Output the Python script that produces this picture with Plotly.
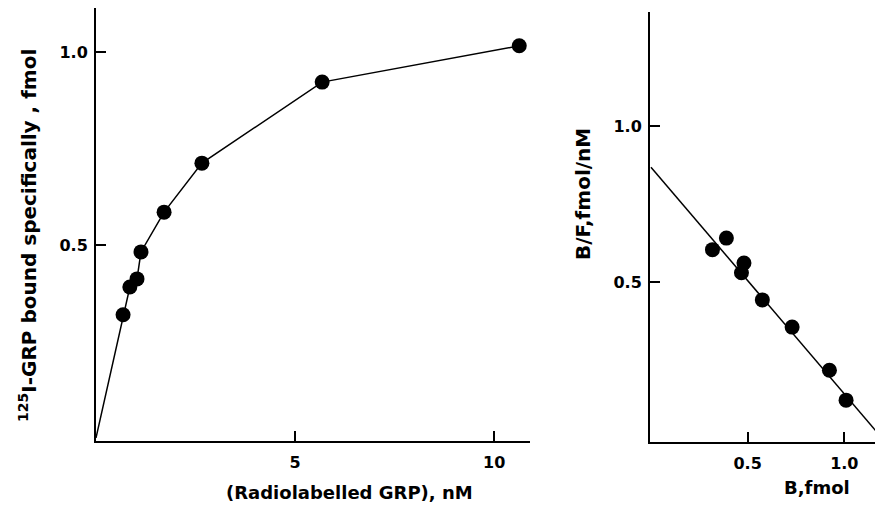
import plotly.graph_objects as go

# Left panel: saturation curve
grp_nM = [0.0, 0.68, 0.85, 1.03, 1.13, 1.71, 2.66, 5.68, 10.63]
bound_fmol = [0.0, 0.319, 0.391, 0.412, 0.482, 0.585, 0.712, 0.922, 1.016]

# Right panel: Scatchard plot
b_fmol = [0.318, 0.390, 0.481, 0.468, 0.576, 0.730, 0.923, 1.009]
bf_ratio = [0.604, 0.641, 0.561, 0.530, 0.443, 0.356, 0.218, 0.122]
fit_intercept = 0.868
fit_slope = -0.726
fit_x = [0.0, 1.2]
fit_y = [fit_intercept + fit_slope * x for x in fit_x]

left_xticks = [5, 10]
left_yticks = [0.5, 1.0]
right_xticks = [0.5, 1.0]
right_yticks = [0.5, 1.0]

FONT = "DejaVu Sans"
# page body has an 8px margin: size the figure to fill the rest of the window
OFF = 8
W, H = 883 - OFF, 508 - OFF


def px(x):
    return (x - OFF) / W


def py(y):
    return 1 - (y - OFF) / H


fig = go.Figure()

fig.add_trace(go.Scatter(x=grp_nM, y=bound_fmol, mode="lines", line=dict(color="black", width=1.5),
                         xaxis="x", yaxis="y", showlegend=False, hoverinfo="skip"))
fig.add_trace(go.Scatter(x=grp_nM[1:], y=bound_fmol[1:], mode="markers",
                         marker=dict(color="black", size=15), xaxis="x", yaxis="y", showlegend=False))
fig.add_trace(go.Scatter(x=fit_x, y=fit_y, mode="lines", line=dict(color="black", width=1.5),
                         xaxis="x2", yaxis="y2", showlegend=False, hoverinfo="skip"))
fig.add_trace(go.Scatter(x=b_fmol, y=bf_ratio, mode="markers",
                         marker=dict(color="black", size=15), xaxis="x2", yaxis="y2", showlegend=False))

tickfont = dict(family=FONT, size=16, color="black", weight="bold")
axis_common = dict(showgrid=False, zeroline=False, showline=True, linecolor="black", linewidth=2,
                   ticks="inside", ticklen=10, tickwidth=1.5, tickcolor="black", tickfont=tickfont,
                   automargin=False)

fig.update_layout(
    template="none",
    width=W, height=H,
    margin=dict(l=0, r=0, t=0, b=0),
    paper_bgcolor="white", plot_bgcolor="white",
    xaxis=dict(domain=[px(96), px(530)], range=[0, 10.9], tickvals=left_xticks,
               ticktext=[str(v) for v in left_xticks], anchor="y", ticklabelstandoff=6, **axis_common),
    yaxis=dict(domain=[py(441), py(8)], range=[-0.008, 1.114], tickvals=left_yticks,
               ticktext=["0.5", "1.0"], anchor="x", ticklabelstandoff=3, **axis_common),
    xaxis2=dict(domain=[px(650), 1.0], range=[-0.005, 1.2], tickvals=right_xticks,
                ticktext=["0.5", "1.0"], anchor="y2", ticklabelstandoff=6, **axis_common),
    yaxis2=dict(domain=[py(442), py(12)], range=[-0.012, 1.365], tickvals=right_yticks,
                ticktext=["0.5", "1.0"], anchor="x2", ticklabelstandoff=3, **axis_common),
)

labfont = dict(family=FONT, size=18, color="black", weight="bold")
fig.add_annotation(text="(Radiolabelled GRP), nM", x=px(349), y=py(492), xref="paper", yref="paper",
                   showarrow=False, font=labfont, xanchor="center", yanchor="middle")
fig.add_annotation(text="B,fmol", x=px(817), y=py(487), xref="paper", yref="paper",
                   showarrow=False, font=labfont, xanchor="center", yanchor="middle")
fig.add_annotation(text="<sup>125</sup>I-GRP bound specifically , fmol", x=px(28), y=py(236),
                   xref="paper", yref="paper", showarrow=False,
                   font=dict(family=FONT, size=20, color="black", weight="bold"),
                   textangle=-90, xanchor="center", yanchor="middle")
fig.add_annotation(text="B/F,fmol/nM", x=px(583), y=py(194), xref="paper", yref="paper",
                   showarrow=False, font=dict(family=FONT, size=20, color="black", weight="bold"),
                   textangle=-90, xanchor="center", yanchor="middle")

fig.write_html(
    "out.html",
    post_script="document.documentElement.style.overflow='hidden';document.body.style.overflow='hidden';",
)
